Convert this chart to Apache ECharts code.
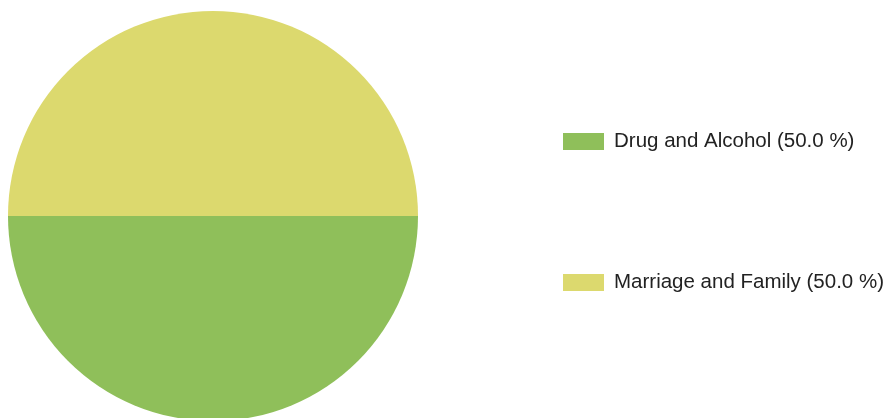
<!DOCTYPE html>
<html>
<head>
<meta charset="utf-8">
<script src="https://cdn.jsdelivr.net/npm/echarts@6/dist/echarts.min.js"></script>
<style>
  html, body { margin: 0; padding: 0; background: #fff; }
  #chartContainer { width: 891px; height: 418px; }
</style>
</head>
<body>
<div id="chartContainer"></div>
<script>
const categories = ['Drug and Alcohol', 'Marriage and Family'];
const values = [50, 50];
const colors = ['#8fbf5a', '#dcd96e'];

const chart = echarts.init(document.getElementById('chartContainer'));
const total = values.reduce((a, b) => a + b, 0);

chart.setOption({
    animation: false,
    color: colors,
    legend: {
        orient: 'vertical',
        left: 558,
        top: 126,
        itemWidth: 41,
        itemHeight: 17,
        itemGap: 120,
        icon: 'rect',
        textStyle: { fontFamily: 'Liberation Sans, Arial, sans-serif', fontSize: 20.5, lineHeight: 20, color: '#222', padding: [0, 0, 0, 5] },
        formatter: function (name) {
            const i = categories.indexOf(name);
            return name + ' (' + (values[i] / total * 100).toFixed(1) + ' %)';
        }
    },
    series: [{
        type: 'pie',
        center: [213, 216],
        radius: 205,
        startAngle: 0,
        clockwise: true,
        label: { show: false },
        labelLine: { show: false },
        emphasis: { disabled: true },
        itemStyle: { borderWidth: 0 },
        data: categories.map((c, i) => ({ name: c, value: values[i] }))
    }]
});
</script>
</body>
</html>
